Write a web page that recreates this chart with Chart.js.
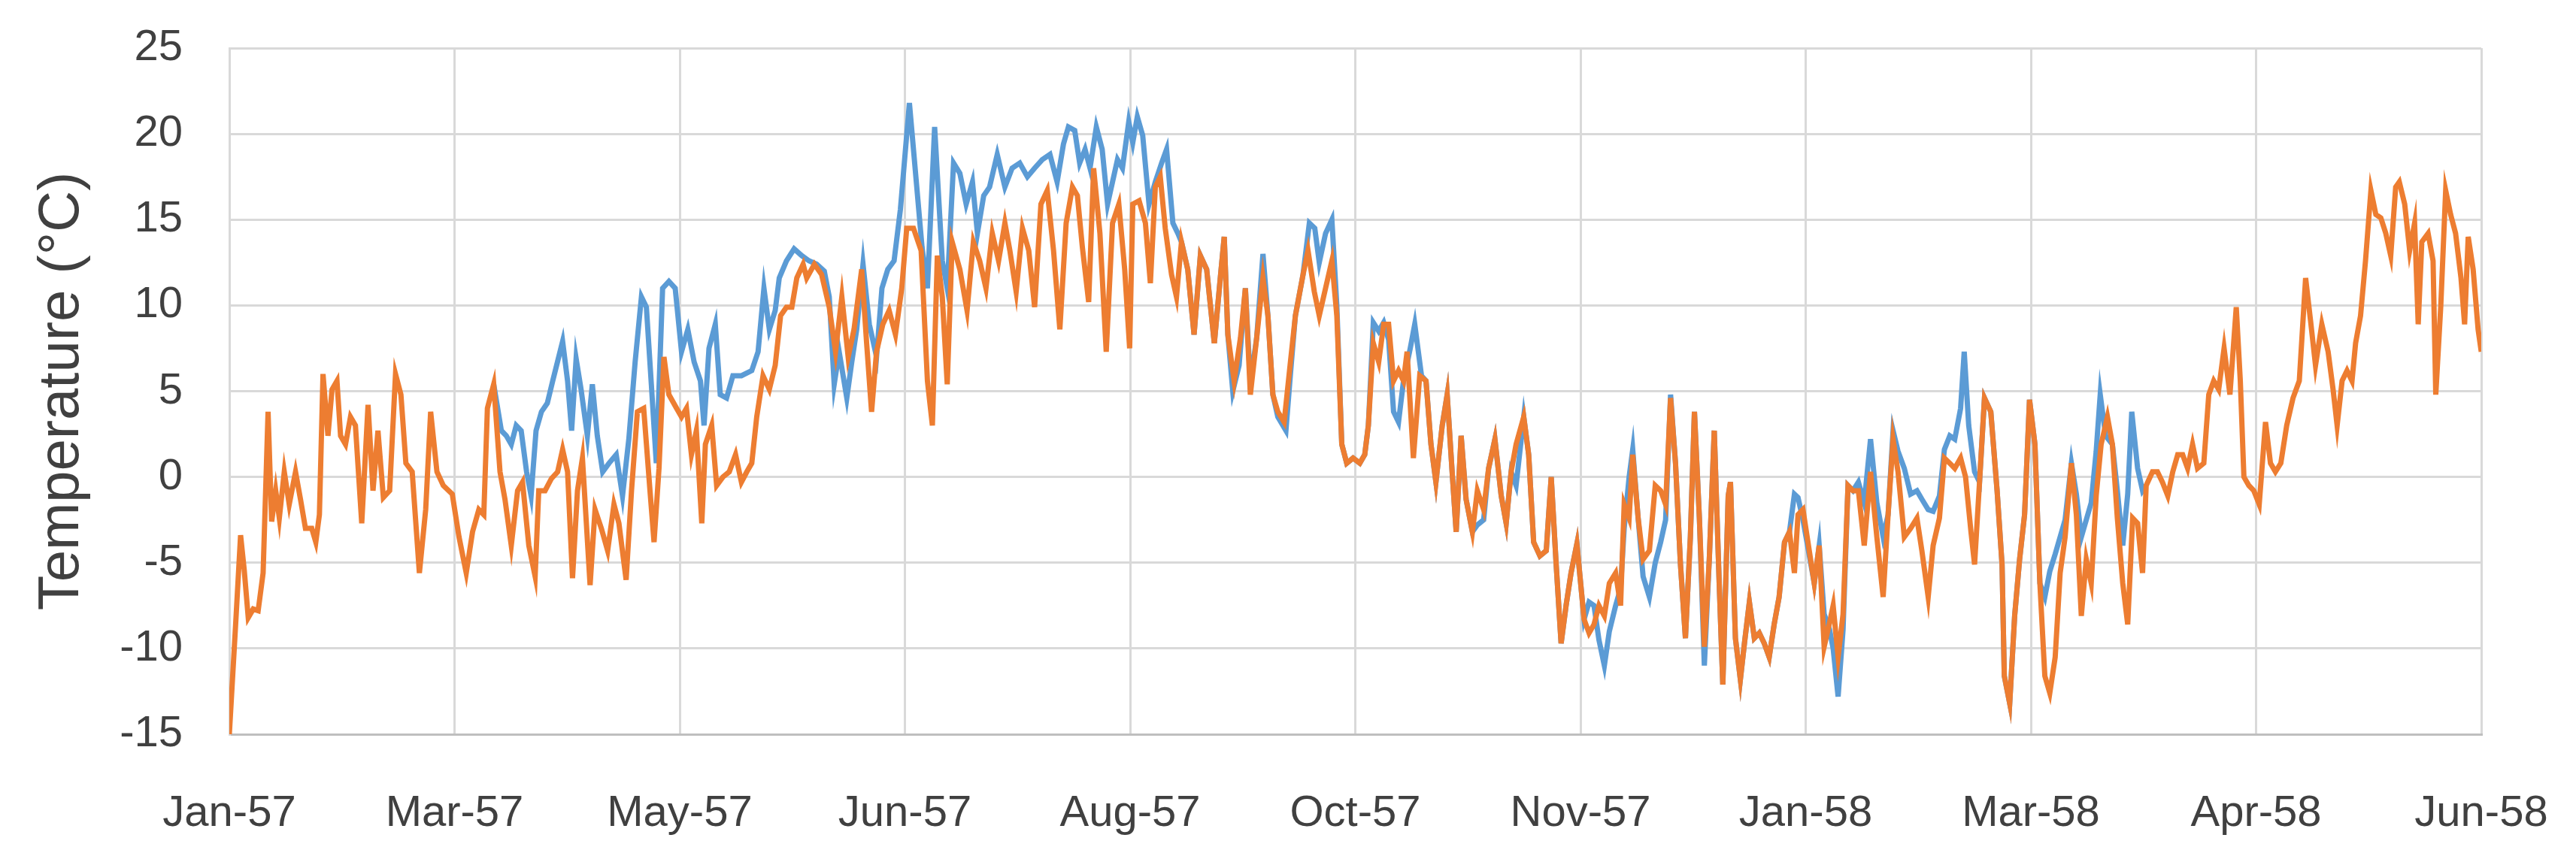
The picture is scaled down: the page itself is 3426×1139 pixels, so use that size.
<!DOCTYPE html>
<html>
<head>
<meta charset="utf-8">
<title>Temperature 1957-58</title>
<script src="https://cdn.jsdelivr.net/npm/chart.js@4/dist/chart.umd.min.js"></script>
<style>
  html, body { margin: 0; padding: 0; background: #ffffff; }
  canvas { display: block; }
</style>
</head>
<body>
<canvas id="chart" width="3426" height="1139"></canvas>
<script>
// x = days since 25 Jan 1957 at the visible vertices
const tickLabels = ["Jan-57", "Mar-57", "May-57", "Jun-57", "Aug-57", "Oct-57",
  "Nov-57", "Jan-58", "Mar-58", "Apr-58", "Jun-58"];

// orange series (drawn on top)
const orangeDays = [
  0, 1.4, 2.5, 3.3, 4.2, 5.3, 6.4, 7.5, 8.6, 9.4, 10.3, 11.1, 12.2, 13.3, 14.7, 15.8, 16.9, 18.3, 19.2, 20,
  20.8, 21.9, 22.8, 23.9, 24.7, 25.8, 26.9, 28, 29.4, 30.8, 31.9, 33, 34.2, 35.6, 36.9, 38.1, 39.2, 40.6, 42.2, 43.6,
  44.7, 46.1, 47.5, 49.5, 51, 52.6, 54, 55.4, 56.5, 57.3, 58.7, 60.1, 61.2, 62.6, 64, 65.1, 66.5, 67.9, 68.7, 70.1,
  71.5, 72.9, 74, 75.1, 76.2, 77.3, 78.4, 80.1, 81.2, 82.6, 84, 85.4, 86.5, 88.1, 89.3, 90.6, 92, 93.4, 94.3, 95.4,
  96.5, 97.6, 99.3, 100.4, 101.5, 102.6, 103.7, 104.9, 105.7, 107.1, 108.2, 109.6, 111, 112.4, 113.7, 114.9, 116, 117.1, 118.5, 119.9,
  121.2, 122.4, 123.7, 124.9, 126, 127.4, 128.2, 129.9, 131.5, 133.2, 134.6, 136, 137.4, 138.7, 140.4, 141.5, 142.6, 143.7, 145.1, 146.5,
  147.9, 149.3, 150.4, 151.9, 153.6, 155, 156.1, 157.2, 158.3, 159.4, 160.5, 162.2, 163.8, 165.2, 166.6, 168, 169.4, 170.8, 172.2, 173.3,
  174.7, 176.1, 177.5, 178.8, 180.2, 181.6, 183, 184.4, 185.8, 187.2, 188.3, 189.4, 190.8, 191.9, 193.3, 194.7, 196.1, 197.5, 198.8, 199.9,
  200.6, 202, 203.4, 204.5, 205.6, 206.7, 207.8, 209.2, 210.3, 211.4, 212.8, 214.2, 215.6, 217, 218.7, 220.1, 220.9, 221.7, 223.1, 224.5,
  225.6, 226.7, 228.1, 229.5, 230.6, 231.7, 232.8, 234.2, 235.6, 236.7, 238.4, 239.5, 240.9, 242, 243.4, 244.8, 245.9, 247, 248.1, 249.5,
  251, 252.1, 252.9, 254, 255.2, 256.3, 257.4, 258.5, 259.6, 260.7, 261.5, 262.9, 264.3, 265.7, 266.8, 267.9, 269.3, 270.4, 271.5, 272.4,
  273.5, 274.6, 276, 277.1, 278.5, 279.6, 281, 282.4, 283.5, 284.6, 285.7, 287.4, 288.5, 289.6, 291, 292.4, 293.5, 294.6, 295.7, 296.8,
  297.9, 299.2, 300.8, 301.9, 303, 304.1, 305.3, 306.4, 307.8, 308.9, 309.7, 310.8, 311.6, 312.8, 313.9, 315.3, 316.6, 317.8, 318.9, 320,
  321.1, 322.2, 323.3, 324.4, 325.3, 326.4, 327.5, 328.6, 329.7, 330.8, 331.6, 332.8, 333.3, 334.4, 335.5, 336.4, 337.5, 338.6, 339.7, 340.8,
  341.9, 343, 344.1, 345.3, 346.4, 347.5, 348.3, 349.4, 351.9, 353, 354.1, 355.3, 356.1, 357.2, 358.3, 359.4, 360.5, 361.7, 363, 364.4,
  365.8, 367.2, 368.3, 369.4, 370.5, 371.9, 373.3, 374.7, 375.8, 377.2, 378.3, 379.7, 380.8, 382, 383.1, 384.4, 385.5, 386.7, 387.5, 388.6,
  389.7, 391.1, 392.5, 393.6, 394.1, 395.3, 396.4, 397.5, 398.6, 399.7, 400.9, 402, 403.1, 404.2, 405.4, 406.5, 407.6, 409, 410.1, 411.2,
  412.3, 413.4, 414.5, 415.6, 417, 418.1, 419.2, 420.4, 421.5, 422.6, 423.7, 424.8, 425.6, 427, 428.1, 429.2, 430.4, 431.5, 432.6, 433.7,
  434.8, 435.9, 437, 438.4, 439.5, 440.6, 441.7, 442.9, 444.2, 445.6, 446.5, 447.3, 448.4, 449.5, 450.7, 452.1, 453.2, 454.3, 455.5, 456.8,
  458.2, 459.6, 461, 462.1, 463.2, 464.6, 466, 467.1, 468, 469.1, 470.2, 471.3, 472.1, 473.2, 474.3, 475.5, 476.6, 477.7, 478.8, 479.9,
  481, 481.8, 483, 484.1, 485.2, 486, 486.8, 488.2, 489.3, 489.9, 491, 492.1, 493.2, 494.3, 495.5, 496.3, 497.1, 498.2, 499.3, 500
];
const orangeTemps = [
  -15, -8.6, -3.4, -5.4, -8.2, -7.7, -7.8, -5.6, 3.8, -2.6, -0.8, -2.4, 0.3, -1.6, 0.3, -1.3, -3.0, -3.0, -3.8, -2.2,
  6.0, 2.4, 5.1, 5.6, 2.4, 1.9, 3.5, 3.0, -2.7, 4.2, -0.8, 2.7, -1.2, -0.8, 6.0, 4.8, 0.8, 0.3, -5.6, -1.9,
  3.8, 0.3, -0.5, -1.0, -3.5, -5.6, -3.2, -1.9, -2.2, 4.0, 5.4, 0.3, -1.3, -4.0, -0.8, -0.3, -4.0, -5.8, -0.8, -0.8,
  -0.1, 0.3, 1.6, 0.3, -5.9, -0.8, 1.1, -6.3, -1.9, -3.0, -4.3, -1.6, -2.7, -6.0, -0.8, 3.8, 4.0, -0.8, -3.8, 0.5,
  7.0, 4.8, 4.0, 3.5, 4.0, 1.3, 2.7, -2.7, 1.9, 3.0, -0.5, 0.0, 0.3, 1.3, -0.3, 0.3, 0.8, 3.5, 5.9, 5.1,
  6.5, 9.4, 9.9, 9.9, 11.6, 12.4, 11.6, 12.4, 11.8, 9.9, 7.3, 10.5, 7.0, 8.6, 12.1, 7.8, 3.8, 7.3, 8.9, 9.7,
  8.3, 11.0, 14.5, 14.5, 13.2, 5.6, 3.0, 12.9, 10.5, 5.4, 13.7, 12.1, 9.7, 13.7, 12.6, 11.0, 14.2, 12.6, 14.8, 13.2,
  10.8, 14.5, 13.2, 9.9, 15.9, 16.7, 13.2, 8.6, 14.8, 16.9, 16.4, 13.4, 10.2, 18.0, 14.2, 7.3, 14.8, 15.9, 12.1, 7.5,
  15.9, 16.1, 14.8, 11.3, 16.9, 17.5, 14.5, 11.8, 10.5, 13.7, 12.1, 8.3, 12.9, 12.1, 7.8, 11.8, 14.0, 8.3, 5.6, 8.1,
  11.0, 4.8, 8.1, 11.6, 9.4, 4.8, 3.8, 3.2, 6.7, 9.4, 11.8, 13.2, 10.8, 9.4, 11.0, 12.6, 9.4, 1.9, 0.8, 1.1,
  0.8, 1.3, 3.0, 7.8, 6.7, 8.9, 8.9, 5.6, 6.2, 5.6, 7.3, 1.1, 5.9, 5.6, 1.9, -0.3, 3.0, 4.8, 0.3, -3.2,
  2.4, -1.3, -3.2, -0.8, -1.9, 0.5, 2.2, -1.1, -2.7, 0.3, 1.9, 3.5, 1.3, -3.8, -4.6, -4.3, 0.0, -5.1, -9.7, -7.5,
  -5.6, -3.9, -8.3, -9.1, -8.6, -7.5, -8.1, -6.2, -5.6, -7.5, -1.6, -2.4, 1.3, -2.4, -4.8, -4.3, -0.5, -0.8, -1.6, 4.6,
  0.8, -5.1, -9.4, -3.5, 3.8, -2.4, -9.9, -4.8, 2.7, -6.2, -12.1, -1.1, -0.3, -9.4, -11.8, -9.7, -7.3, -9.4, -9.1, -9.7,
  -10.5, -8.6, -7.0, -3.8, -3.2, -5.6, -2.2, -1.9, -6.2, -4.0, -9.9, -8.5, -7.5, -10.5, -8.0, -0.5, -0.8, -0.8, -4.0, 0.3,
  -3.5, -7.0, -2.2, 2.2, 0.3, -3.5, -3.0, -2.4, -4.3, -7.0, -4.0, -2.4, 1.1, 0.8, 0.5, 1.1, 0.0, -3.2, -5.1, -0.3,
  4.6, 3.8, -0.8, -5.1, -11.6, -13.2, -8.1, -4.8, -2.2, 4.5, 1.9, -6.2, -11.6, -12.6, -10.5, -5.6, -3.5, 0.8, -2.2, -8.1,
  -4.8, -6.2, -1.1, 1.9, 3.5, 1.9, -2.4, -6.2, -8.6, -2.4, -2.7, -5.6, -0.5, 0.3, 0.3, -0.3, -1.1, 0.3, 1.3, 1.3,
  0.5, 1.9, 0.5, 0.8, 4.8, 5.6, 5.1, 7.5, 4.8, 9.9, 5.6, 0.0, -0.5, -0.8, -1.6, 3.2, 0.8, 0.3, 0.8, 3.0,
  4.6, 5.6, 11.6, 9.1, 6.5, 8.9, 7.3, 5.1, 3.0, 5.6, 6.2, 5.6, 7.8, 9.4, 12.6, 16.7, 15.3, 15.1, 14.2, 12.9,
  16.9, 17.2, 15.9, 13.2, 14.8, 8.9, 13.7, 14.2, 12.6, 4.8, 9.9, 16.7, 15.3, 14.2, 11.6, 8.9, 14.0, 12.1, 8.6, 7.3
];

// blue series (mostly hidden under the orange one where they agree)
const blueDays = [
  58.7, 60.4, 61.5, 62.6, 63.7, 64.8, 66, 67, 68.1, 69.3, 70.6, 71.8, 74, 75.1, 76, 77, 78.1, 79.5, 80.6, 81.7,
  82.9, 84.3, 85.9, 87.3, 88.7, 90.1, 91.5, 92.6, 93.7, 94.8, 96.2, 97.6, 99, 100.4, 101.8, 103.2, 104.6, 105.4, 106.5, 107.9,
  109, 110.4, 111.8, 113.7, 116, 117.4, 118.7, 119.9, 121.2, 122.1, 123.7, 125.4, 127.1, 128.7, 130.4, 132.1, 133.2, 134.3, 135.4, 137.1,
  138.2, 139.3, 140.7, 142.1, 143.7, 144.9, 146.2, 147.6, 149, 151, 153.8, 155, 156.6, 158.3, 159.4, 160.8, 162.2, 163.6, 165, 166.1,
  167.5, 168.8, 170.5, 172.2, 173.8, 175.5, 177.2, 178.8, 180.5, 182.2, 183.8, 185.2, 186.3, 187.7, 188.8, 190, 191.1, 192.5, 193.8, 195,
  196.1, 197.2, 198.3, 199.7, 200.6, 201.6, 202.8, 204.2, 205.6, 207, 208.1, 209.5, 210.6, 211.4, 212.8, 214.2, 215.6, 217, 218.7, 220.1,
  220.9, 221.7, 222.8, 224.2, 225.6, 226.7, 228.1, 229.5, 230.6, 231.7, 232.8, 234.6, 235.6, 236.7, 238.4, 239.8, 241, 242, 243.4, 244.8,
  245.9, 247, 248.1, 249.5, 251, 252.1, 252.9, 254, 255.2, 256.3, 257.4, 258.5, 259.6, 260.7, 262.2, 263.2, 264.7, 265.7, 266.8, 267.9,
  269.3, 270.4, 271.5, 272.4, 273.5, 274.6, 276, 277.1, 278.5, 279.6, 281, 282.4, 283.5, 284.6, 285.7, 287.4, 288.5, 289.6, 291, 292.4,
  293.5, 294.6, 295.7, 296.8, 297.9, 299.2, 300.8, 301.9, 303, 304.1, 305.3, 306.4, 307.8, 308.9, 309.7, 310.8, 311.6, 312.8, 313.9, 315.3,
  316.6, 317.8, 318.9, 320, 321.1, 322.2, 323.3, 324.4, 325.3, 326.4, 327.5, 328.6, 329.7, 330.8, 331.6, 332.8, 333.3, 334.4, 335.5, 336.4,
  337.5, 338.6, 339.7, 340.8, 341.9, 343, 344.1, 345.3, 346.4, 347.5, 348.3, 349.4, 351.9, 353, 354.1, 355.3, 356.1, 357.2, 358.3, 359.4,
  360.5, 361.7, 363, 364.4, 365.8, 367.2, 368.3, 369.4, 370.5, 371.9, 373.3, 374.7, 375.8, 377.2, 378.3, 379.7, 380.8, 382, 383.1, 384.4,
  385.2, 386.2, 387.5, 388.6, 389.7, 391.1, 392.5, 393.6, 394.1, 395.3, 396.4, 397.5, 398.6, 399.7, 400.9, 402, 403.1, 404.2, 405.4, 406.5,
  407.6, 409, 410.1, 411.2, 412.3, 413.4, 414.5, 415.4, 416.6, 418.1, 419.2, 420.4, 421.5, 422.4, 423.7, 424.8, 425.6
];
const blueTemps = [
  5.4, 2.7, 2.4, 1.9, 3.0, 2.7, 0.3, -1.1, 2.7, 3.8, 4.3, 5.6, 7.9, 5.6, 2.7, 6.9, 5.1, 2.4, 5.4, 2.4,
  0.3, 0.8, 1.3, -1.1, 2.2, 6.7, 10.5, 9.9, 5.4, 0.8, 11.0, 11.4, 11.0, 7.3, 8.6, 6.7, 5.6, 3.0, 7.5, 8.9,
  4.8, 4.6, 5.9, 5.9, 6.2, 7.3, 11.0, 8.6, 9.7, 11.6, 12.6, 13.3, 12.9, 12.6, 12.4, 12.0, 10.5, 5.4, 7.3, 4.6,
  6.7, 8.6, 12.4, 8.9, 7.0, 11.0, 12.1, 12.6, 15.6, 21.8, 13.4, 11.0, 20.4, 12.6, 11.0, 18.3, 17.7, 15.9, 17.2, 14.2,
  16.4, 16.9, 18.8, 16.9, 18.0, 18.3, 17.5, 18.0, 18.5, 18.8, 17.2, 19.4, 20.4, 20.2, 18.3, 19.1, 18.0, 20.4, 19.1, 15.9,
  17.2, 18.5, 18.0, 20.7, 19.5, 21.0, 19.9, 15.9, 17.2, 18.3, 19.1, 14.8, 14.2, 13.7, 12.1, 8.3, 12.9, 12.1, 7.8, 11.8,
  14.0, 8.3, 5.0, 6.5, 11.0, 5.5, 8.1, 13.0, 9.4, 4.8, 3.5, 2.7, 6.0, 9.4, 11.8, 14.8, 14.5, 12.5, 14.2, 15.0,
  10.0, 1.9, 0.8, 1.1, 0.8, 1.3, 3.0, 9.0, 8.5, 9.0, 8.0, 3.8, 3.2, 5.6, 7.5, 8.9, 5.9, 5.6, 1.9, -0.3,
  3.0, 4.8, 0.3, -3.2, 2.4, -1.3, -3.2, -2.8, -2.5, 0.5, 2.2, -1.1, -2.7, 0.3, -0.5, 3.5, 1.3, -3.8, -4.6, -4.3,
  0.0, -5.1, -9.7, -7.5, -5.6, -3.9, -8.3, -7.3, -7.5, -9.5, -11.0, -9.0, -7.5, -6.5, -3.0, 0.0, 1.6, -2.4, -5.8, -7.0,
  -5.0, -3.8, -2.5, 4.8, 0.8, -5.1, -9.4, -3.5, 3.8, -2.4, -11.0, -4.8, 2.7, -6.2, -12.1, -1.1, -0.3, -9.4, -11.8, -9.7,
  -7.3, -9.4, -9.1, -9.7, -10.5, -8.6, -7.0, -3.8, -3.2, -1.0, -1.2, -2.5, -6.2, -4.0, -8.0, -8.9, -10.0, -12.8, -8.9, -0.5,
  -0.8, -0.3, -1.5, 2.2, -1.5, -3.5, -2.2, 2.7, 1.5, 0.5, -1.0, -0.8, -1.3, -1.9, -2.0, -1.1, 1.6, 2.4, 2.2, 4.0,
  7.3, 3.0, 0.3, -0.3, 4.6, 3.8, -0.8, -5.1, -11.6, -13.2, -8.1, -4.8, -2.2, 4.5, 1.9, -6.2, -7.0, -5.5, -4.5, -3.5,
  -2.5, 0.8, -1.0, -3.5, -2.5, -1.5, 1.5, 4.8, 2.4, 1.9, -0.8, -4.0, -1.0, 3.8, 0.5, -0.8, -0.5
];

const textColor = "#404040";
const gridColor = "#d9d9d9";

function toPoints(days, temps) {
  return days.map((d, i) => ({ x: d, y: temps[i] }));
}

const ctx = document.getElementById("chart").getContext("2d");

new Chart(ctx, {
  type: "line",
  data: {
    datasets: [
      {
        label: "orange",
        data: toPoints(orangeDays, orangeTemps),
        borderColor: "#ED7D31",
        borderWidth: 7,
        pointRadius: 0,
        tension: 0,
        order: 1,
      },
      {
        label: "blue",
        data: toPoints(blueDays, blueTemps),
        borderColor: "#5B9BD5",
        borderWidth: 7,
        pointRadius: 0,
        tension: 0,
        order: 2,
      },
    ],
  },
  options: {
    responsive: false,
    animation: false,
    layout: { padding: { left: 0, top: 64, right: 126, bottom: 0 } },
    plugins: {
      legend: { display: false },
      tooltip: { enabled: false },
    },
    scales: {
      x: {
        type: "linear",
        min: 0,
        max: 500,
        ticks: {
          stepSize: 50,
          autoSkip: false,
          maxRotation: 0,
          padding: 71,
          color: textColor,
          font: { family: "Liberation Sans", size: 58 },
          callback: (v) => tickLabels[Math.round(v / 50)],
        },
        grid: { color: gridColor, lineWidth: 3, drawTicks: false },
        border: { color: "#bfbfbf", width: 3 },
        afterFit: (scale) => {
          // plot area edges are set by layout padding, not by label overflow
          scale.height = 162;
          scale.paddingLeft = 0;
          scale.paddingRight = 0;
        },
      },
      y: {
        min: -15,
        max: 25,
        ticks: {
          stepSize: 5,
          padding: 62,
          color: textColor,
          font: { family: "Liberation Sans", size: 58 },
        },
        grid: { color: gridColor, lineWidth: 3, drawTicks: false },
        border: { color: gridColor, width: 3 },
        title: {
          display: true,
          text: "Temperature (°C)",
          color: textColor,
          font: { family: "Liberation Sans", size: 76 },
          padding: { top: 37, bottom: 0 },
        },
        afterFit: (scale) => {
          scale.width = 305;
          scale.paddingTop = 0;
          scale.paddingBottom = 0;
        },
      },
    },
  },
});
</script>
</body>
</html>
